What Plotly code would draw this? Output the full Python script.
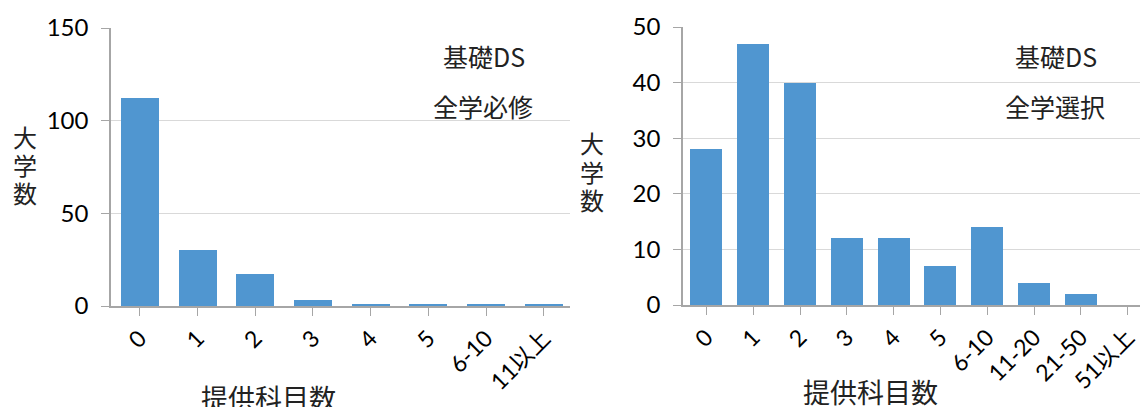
import plotly.graph_objects as go

# 基礎DS 全学必修: number of universities by number of courses offered
cats_required = ["0", "1", "2", "3", "4", "5", "6-10", "11以上"]
univ_required = [112, 30, 17, 3, 1, 1, 1, 1]

# 基礎DS 全学選択
cats_elective = ["0", "1", "2", "3", "4", "5", "6-10", "11-20", "21-50", "51以上"]
univ_elective = [28, 47, 40, 12, 12, 7, 14, 4, 2, 0]

W, H = 1140, 407
BAR = "#5096D0"
GRID = "#D9D9D9"
AXIS = "#A6A6A6"
FONT = "Lato, Noto Sans CJK JP, sans-serif"
CJK = "Noto Sans CJK JP, sans-serif"


def px_x(x):
    return x / W


def px_y(y):
    return 1 - y / H


fig = go.Figure()

fig.add_trace(go.Bar(x=list(range(len(cats_required))), y=univ_required,
                     marker=dict(color=BAR, line=dict(width=0)),
                     width=0.66, xaxis="x", yaxis="y", showlegend=False))
fig.add_trace(go.Bar(x=list(range(len(cats_elective))), y=univ_elective,
                     marker=dict(color=BAR, line=dict(width=0)),
                     width=0.68, xaxis="x2", yaxis="y2", showlegend=False))

common_x = dict(
    tickmode="array", tickangle=-45, ticks="outside", ticklen=8, tickcolor=AXIS,
    showline=True, linecolor=AXIS, linewidth=1.5, showgrid=False, zeroline=False,
    tickfont=dict(family=FONT, size=23, color="#000"), fixedrange=True,
    automargin=False, tickson="boundaries",
)
common_y = dict(
    ticks="outside", ticklen=8, tickcolor=AXIS, showline=True, linecolor=AXIS,
    linewidth=1.5, showgrid=True, gridcolor=GRID, gridwidth=1.2, zeroline=False,
    tickfont=dict(family=FONT, size=24, color="#000"), fixedrange=True,
    automargin=False, ticklabelstandoff=8,
)

fig.update_layout(
    width=W, height=H,
    margin=dict(l=0, r=0, t=0, b=0, autoexpand=False),
    paper_bgcolor="white", plot_bgcolor="white",
    bargap=0,
    xaxis=dict(domain=[px_x(111), px_x(570)], anchor="y",
               range=[-0.5, -0.5 + 459 / 57.7],
               tickvals=list(range(len(cats_required))), ticktext=cats_required,
               **common_x),
    yaxis=dict(domain=[px_y(306), px_y(28)], anchor="x", range=[0, 150],
               tickvals=[0, 50, 100, 150], **common_y),
    xaxis2=dict(domain=[px_x(683), 1.0], anchor="y2",
                range=[-0.5, -0.5 + 457 / 46.8],
                tickvals=list(range(len(cats_elective))), ticktext=cats_elective,
                **common_x),
    yaxis2=dict(domain=[px_y(305), px_y(27)], anchor="x2", range=[0, 50],
                tickvals=[0, 10, 20, 30, 40, 50], **common_y),
)

annots = []


def label(text, x, y, size):
    annots.append(dict(text=text, x=px_x(x), y=px_y(y), xref="paper", yref="paper",
                       showarrow=False, xanchor="center", yanchor="middle",
                       font=dict(family=CJK, size=size, color="#222")))


# panel captions
label("基礎DS", 484, 56, 25)
label("全学必修", 483, 106, 25)
label("基礎DS", 1056, 56, 25)
label("全学選択", 1055, 106, 25)

# vertical y-axis titles, one character per line
for i, ch in enumerate("大学数"):
    label(ch, 25, 136 + 28 * i, 24)
    label(ch, 592, 143 + 28 * i, 24)

# x-axis titles
label("提供科目数", 268, 397, 27)
label("提供科目数", 870, 391, 27)

fig.update_layout(annotations=annots)

fig.write_html("out.html")
